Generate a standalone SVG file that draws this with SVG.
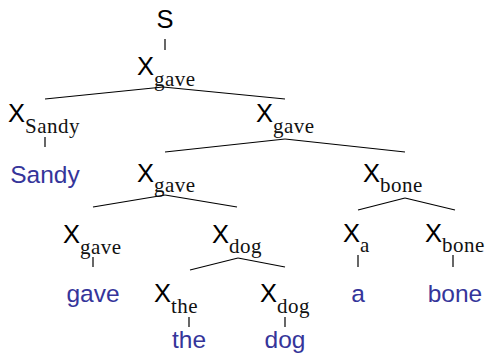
<svg xmlns="http://www.w3.org/2000/svg" width="485" height="355" viewBox="0 0 485 355">
<style>
.x{font-family:"Liberation Sans","DejaVu Sans",sans-serif;font-size:25.5px;fill:#000}
.s{font-family:"Liberation Serif","DejaVu Serif",serif;font-size:21px;letter-spacing:0.5px;fill:#111}
.w{font-family:"Liberation Sans","DejaVu Sans",sans-serif;font-size:24.5px;fill:#35359a;text-anchor:middle}
.e line{stroke:#000;stroke-width:1.2}
</style>
<rect width="485" height="355" fill="#fff"/>
<g id="n-S"><text class="x" x="165" y="28" text-anchor="middle" font-size="27">S</text></g>
<g id="n-gave1"><text class="x" x="137" y="75">X</text><text class="s" x="154" y="86">gave</text></g>
<g id="n-sandy"><text class="x" x="8" y="122">X</text><text class="s" x="25" y="133">Sandy</text></g>
<g id="n-gave2"><text class="x" x="256" y="122">X</text><text class="s" x="273" y="133">gave</text></g>
<g id="n-gave3"><text class="x" x="137" y="182">X</text><text class="s" x="154" y="192">gave</text></g>
<g id="n-bone1"><text class="x" x="363" y="182">X</text><text class="s" x="380" y="192">bone</text></g>
<g id="n-gave4"><text class="x" x="63" y="243">X</text><text class="s" x="80" y="254">gave</text></g>
<g id="n-dog1"><text class="x" x="212" y="243">X</text><text class="s" x="229" y="253">dog</text></g>
<g id="n-a"><text class="x" x="343" y="242">X</text><text class="s" x="360" y="252">a</text></g>
<g id="n-bone2"><text class="x" x="425" y="242">X</text><text class="s" x="442" y="252">bone</text></g>
<g id="n-the"><text class="x" x="154" y="302">X</text><text class="s" x="171" y="313">the</text></g>
<g id="n-dog2"><text class="x" x="260" y="302">X</text><text class="s" x="277" y="313">dog</text></g>
<g id="w-sandy"><text class="w" x="45" y="183">Sandy</text></g>
<g id="w-gave"><text class="w" x="93" y="302">gave</text></g>
<g id="w-a"><text class="w" x="358" y="302">a</text></g>
<g id="w-bone"><text class="w" x="455" y="302">bone</text></g>
<g id="w-the"><text class="w" x="189" y="348">the</text></g>
<g id="w-dog"><text class="w" x="285" y="348">dog</text></g>
<g id="edges" class="e">
<line x1="165" y1="39" x2="165" y2="50"/>
<line x1="163" y1="87" x2="45" y2="99"/>
<line x1="163" y1="87" x2="285" y2="99"/>
<line x1="45" y1="137" x2="45" y2="147"/>
<line x1="285" y1="139" x2="165" y2="152"/>
<line x1="285" y1="139" x2="405" y2="152"/>
<line x1="165" y1="195" x2="93" y2="207"/>
<line x1="165" y1="195" x2="237" y2="207"/>
<line x1="405" y1="198" x2="358" y2="210"/>
<line x1="405" y1="198" x2="455" y2="210"/>
<line x1="93" y1="257" x2="93" y2="267"/>
<line x1="238" y1="258" x2="190" y2="270"/>
<line x1="238" y1="258" x2="285" y2="267"/>
<line x1="358" y1="255" x2="358" y2="267"/>
<line x1="453" y1="255" x2="453" y2="267"/>
<line x1="189" y1="317" x2="189" y2="327"/>
<line x1="285" y1="317" x2="285" y2="327"/>
</g>
</svg>
